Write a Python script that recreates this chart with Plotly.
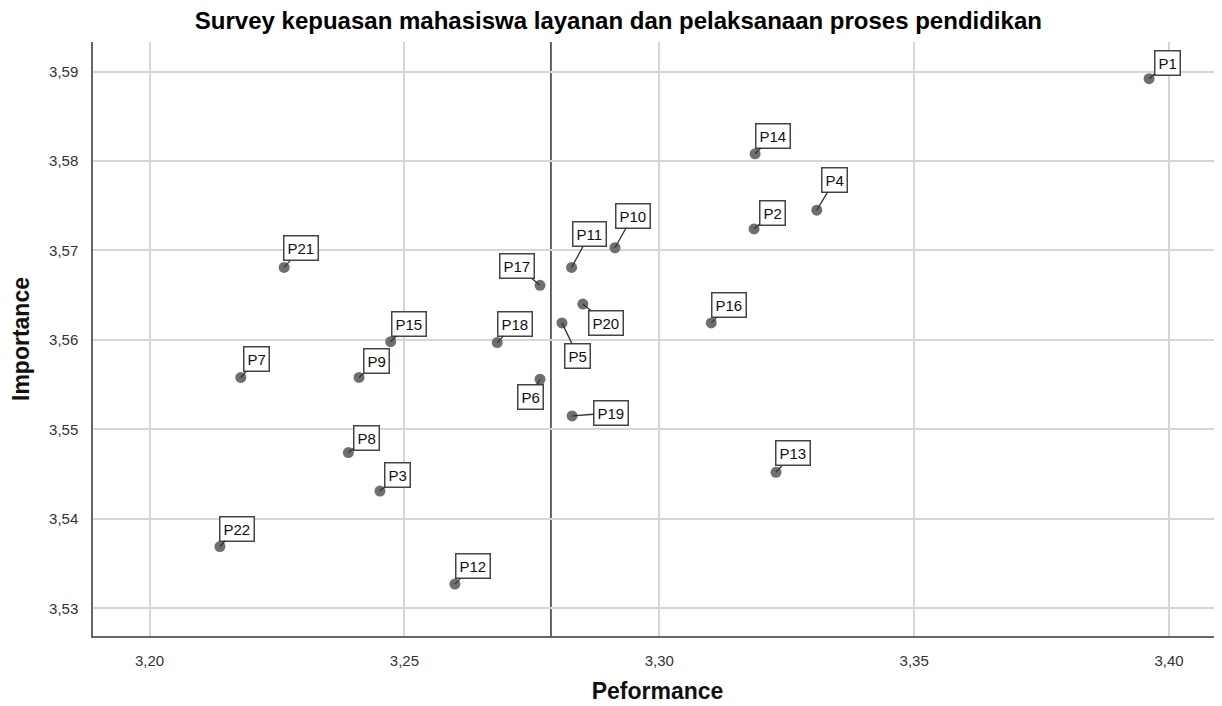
import numpy as np
import plotly.graph_objects as go

labels = ["P1", "P2", "P3", "P4", "P5", "P6", "P7", "P8", "P9", "P10", "P11",
          "P12", "P13", "P14", "P15", "P16", "P17", "P18", "P19", "P20", "P21", "P22"]
performance = [3.3961, 3.3186, 3.2452, 3.3309, 3.2809, 3.2766, 3.2179, 3.2390,
               3.2411, 3.2913, 3.2828, 3.2599, 3.3229, 3.3188, 3.2473, 3.3102,
               3.2766, 3.2682, 3.2829, 3.2850, 3.2264, 3.2138]
importance = [3.5892, 3.5724, 3.5431, 3.5745, 3.5619, 3.5556, 3.5558, 3.5474,
              3.5558, 3.5703, 3.5681, 3.5327, 3.5452, 3.5808, 3.5598, 3.5619,
              3.5661, 3.5597, 3.5515, 3.5640, 3.5681, 3.5369]

x_ticks = [3.20, 3.25, 3.30, 3.35, 3.40]
y_ticks = [3.53, 3.54, 3.55, 3.56, 3.57, 3.58, 3.59]

# label box placement (pixel offsets from point to box centre)
label_offsets = {
    "P1": (18, -16), "P2": (18, -16), "P3": (18, -16), "P4": (18, -30),
    "P5": (16, 33), "P6": (-10, 18), "P7": (16, -18), "P8": (18, -15),
    "P9": (17, -16), "P10": (18, -32), "P11": (18, -33), "P12": (18, -18),
    "P13": (17, -19), "P14": (18, -18), "P15": (18, -18), "P16": (18, -18),
    "P17": (-23, -19), "P18": (18, -19), "P19": (39, -3), "P20": (23, 19),
    "P21": (17, -19), "P22": (17, -18),
}

mean_x = float(np.mean(performance))
mean_y = float(np.mean(importance))

FONT = "Arial, Liberation Sans, sans-serif"
H = 706

fig = go.Figure()
fig.add_trace(go.Scatter(
    x=performance, y=importance, mode="markers",
    marker=dict(size=11, color="#6f6f6f", line=dict(width=0)),
    hoverinfo="text", text=labels, showlegend=False,
))

annotations = []
for lab, xv, yv in zip(labels, performance, importance):
    ax, ay = label_offsets[lab]
    annotations.append(dict(
        x=xv, y=yv, xref="x", yref="y", text=lab,
        showarrow=True, arrowhead=0, arrowwidth=1.3, arrowcolor="#333333",
        ax=ax, ay=ay, standoff=0,
        font=dict(family=FONT, size=15, color="#111111"),
        bgcolor="white", bordercolor="#444444", borderwidth=1.5, borderpad=3,
    ))

fig.update_layout(
    width=1222, height=H,
    margin=dict(l=85, r=8, t=34, b=78),
    paper_bgcolor="white", plot_bgcolor="white",
    separators=",.",
    title=dict(
        text="<b>Survey kepuasan mahasiswa layanan dan pelaksanaan proses pendidikan</b>",
        x=0.4995, xanchor="center", y=1 - 13 / H, yanchor="middle",
        font=dict(family=FONT, size=24, color="#000000"),
    ),
    font=dict(family=FONT),
    annotations=annotations,
    shapes=[
        dict(type="line", xref="x", yref="paper", x0=mean_x, x1=mean_x, y0=0, y1=1,
             line=dict(color="#111111", width=1.3), layer="below"),
        dict(type="line", xref="paper", yref="y", x0=0, x1=1, y0=mean_y, y1=mean_y,
             line=dict(color="#111111", width=1.3), layer="below"),
    ],
)

fig.update_xaxes(
    range=[3.1889, 3.4104], tickvals=x_ticks, tickformat=".2f",
    showgrid=True, gridcolor="#d6d6d6", gridwidth=1.5,
    showline=True, linecolor="#666666", linewidth=1.5, zeroline=False,
    ticks="", tickfont=dict(size=15, color="#333333"), ticklabelstandoff=10,
    title=dict(text="<b>Peformance</b>", standoff=15,
               font=dict(size=23, color="#111111")),
)
fig.update_yaxes(
    range=[3.5269, 3.5933], tickvals=y_ticks, tickformat=".2f",
    showgrid=True, gridcolor="#d6d6d6", gridwidth=1.5,
    showline=True, linecolor="#666666", linewidth=1.5, zeroline=False,
    ticks="", tickfont=dict(size=15, color="#333333"), ticklabelstandoff=10,
    title=dict(text="<b>Importance</b>", standoff=16,
               font=dict(size=23, color="#111111")),
)

fig.write_html("out.html")
